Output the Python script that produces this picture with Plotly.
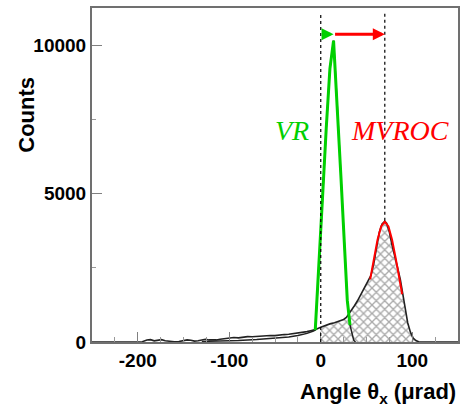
import plotly.graph_objects as go

# ---- data ----
# total (non-VR) distribution outline
main_x = [-250, -200, -195, -190, -186, -182, -178, -174, -170, -165, -160, -155, -150, -146, -142,
          -138, -134, -130, -126, -122, -118, -114, -110, -105, -100, -95, -90, -85, -80, -75, -70,
          -65, -60, -55, -50, -45, -40, -35, -30, -25, -20, -15, -10, -5, 0, 5, 10, 15, 20, 25, 28,
          31, 34, 37, 40, 43, 46, 49, 52, 55, 58, 61, 64, 67, 70, 72, 75, 78, 81, 84, 87, 90, 92,
          95, 98, 101, 104, 107, 110, 150]
main_y = [0, 0, 10, 70, 80, 40, 70, 80, 40, 15, 10, 15, 40, 70, 60,
          30, 40, 60, 90, 70, 60, 70, 90, 110, 120, 150, 140, 170, 180, 175, 190,
          200, 210, 220, 215, 240, 250, 260, 280, 300, 320, 350, 390, 430, 500, 560, 610, 650, 700, 760, 830,
          950, 1080, 1230, 1380, 1550, 1750, 1900, 2050, 2250, 2650, 3250, 3700, 3980, 4060, 4000, 3700, 3250, 2900,
          2500, 2100, 1550, 1100, 650, 330, 130, 50, 10, 0, 0]

# VR peak black histogram (tails visible outside the green curve)
vr_x = [-130, -110, -90, -70, -50, -35, -25, -15, -8, -6, -2, 2, 6, 10, 14, 18, 22, 26, 29, 32, 34, 36, 38]
vr_y = [20, 30, 50, 80, 120, 170, 220, 290, 370, 400, 2500, 4900, 7200, 9200, 10150, 8000, 5600, 3200,
        1400, 570, 280, 60, 0]

# VR peak (green)
green_x = [-6, -2, 2, 6, 10, 14, 18, 22, 26, 29, 32]
green_y = [400, 2500, 4900, 7200, 9200, 10150, 8000, 5600, 3200, 1400, 570]

# MVROC fit (red)
red_x = [54, 58, 62, 66, 70, 74, 78, 82, 86, 89]
red_y = [2110, 2810, 3440, 3890, 4050, 3890, 3440, 2810, 2110, 1610]

# markers
vr_edge = 0
vr_peak = 14
mvroc_peak = 70
mvroc_height = 4080
arrow_level = 10370
line_top = 11070

x_range = [-250, 150]
y_range = [0, 11250]
x_ticks = [-200, -100, 0, 100]
x_ticktext = ["-200", "-100", "0", "100"]
y_ticks = [0, 5000, 10000]
y_ticktext = ["0", "5000", "10000"]

GREEN = "#00d000"
RED = "#ff0000"

fig = go.Figure()

# hatched region (x >= 0)
hx = [x for x in main_x if 0 <= x <= 110]
hy = [y for x, y in zip(main_x, main_y) if 0 <= x <= 110]
fig.add_trace(go.Scatter(
    x=hx, y=hy, mode="lines", line=dict(color="rgba(0,0,0,0)", width=0),
    fill="tozeroy", fillcolor="rgba(0,0,0,0)",
    fillpattern=dict(shape="x", fgcolor="#555555", bgcolor="white", size=6, solidity=0.4),
    showlegend=False, hoverinfo="skip"))

fig.add_trace(go.Scatter(x=vr_x, y=vr_y, mode="lines", line=dict(color="#222222", width=1.5),
                         showlegend=False))
fig.add_trace(go.Scatter(x=main_x, y=main_y, mode="lines", line=dict(color="#222222", width=1.6),
                         showlegend=False))
fig.add_trace(go.Scatter(x=green_x, y=green_y, mode="lines", line=dict(color=GREEN, width=3),
                         showlegend=False))
fig.add_trace(go.Scatter(x=red_x, y=red_y, mode="lines", line=dict(color=RED, width=2),
                         showlegend=False))

# dotted guide lines
fig.add_shape(type="line", x0=vr_edge, x1=vr_edge, y0=0, y1=line_top,
              line=dict(color="black", width=1.2, dash="dot"))
fig.add_shape(type="line", x0=mvroc_peak, x1=mvroc_peak, y0=mvroc_height, y1=line_top,
              line=dict(color="black", width=1.2, dash="dot"))

# arrows
fig.add_annotation(x=vr_peak, y=arrow_level, ax=vr_edge, ay=arrow_level, axref="x", ayref="y",
                   xref="x", yref="y", text="", showarrow=True, arrowhead=2, arrowsize=0.8,
                   arrowwidth=3, arrowcolor=GREEN)
fig.add_annotation(x=mvroc_peak, y=arrow_level, ax=vr_peak, ay=arrow_level, axref="x", ayref="y",
                   xref="x", yref="y", text="", showarrow=True, arrowhead=2, arrowsize=0.8,
                   arrowwidth=3, arrowcolor=RED)

# labels
fig.add_annotation(x=-31, y=7140, xref="x", yref="y", text="VR", showarrow=False,
                   font=dict(family="Liberation Serif", size=28, color=GREEN, style="italic"))
fig.add_annotation(x=87, y=7140, xref="x", yref="y", text="MVROC", showarrow=False,
                   font=dict(family="Liberation Serif", size=28, color=RED, style="italic"))

# axis titles
fig.add_annotation(x=-0.178, y=0.68, xref="paper", yref="paper", text="Counts", textangle=-90,
                   showarrow=False, xanchor="center", yanchor="middle",
                   font=dict(family="Liberation Sans", size=22, color="black", weight="bold"))
fig.add_annotation(x=1.0, y=-0.153, xref="paper", yref="paper",
                   text="Angle θ<sub>x</sub> (μrad)", showarrow=False, xanchor="right", yanchor="middle",
                   font=dict(family="Liberation Sans", size=22, color="black", weight="bold"))

axis_common = dict(showgrid=False, zeroline=False, showline=True, linecolor="#707070", linewidth=2,
                   mirror=True, ticks="inside", tickcolor="#808080",
                   tickfont=dict(family="Liberation Sans", size=19, color="black", weight="bold"))

fig.update_xaxes(range=x_range, tickvals=x_ticks, ticktext=x_ticktext, ticklen=10, tickwidth=1,
                 minor=dict(dtick=25, tick0=0, ticks="inside", ticklen=5, tickcolor="#999999"),
                 **axis_common)
fig.update_yaxes(range=y_range, tickvals=y_ticks, ticktext=y_ticktext, ticklen=10, tickwidth=1,
                 minor=dict(dtick=2500, tick0=0, ticks="inside", ticklen=4, tickcolor="#999999"),
                 **axis_common)

fig.update_layout(width=460, height=406, margin=dict(l=92, r=2, t=8, b=64, autoexpand=False),
                  paper_bgcolor="white", plot_bgcolor="white", showlegend=False)

fig.write_html("out.html", config={"displayModeBar": False},
               post_script="document.body.style.margin='0';document.body.style.overflow='hidden';")
